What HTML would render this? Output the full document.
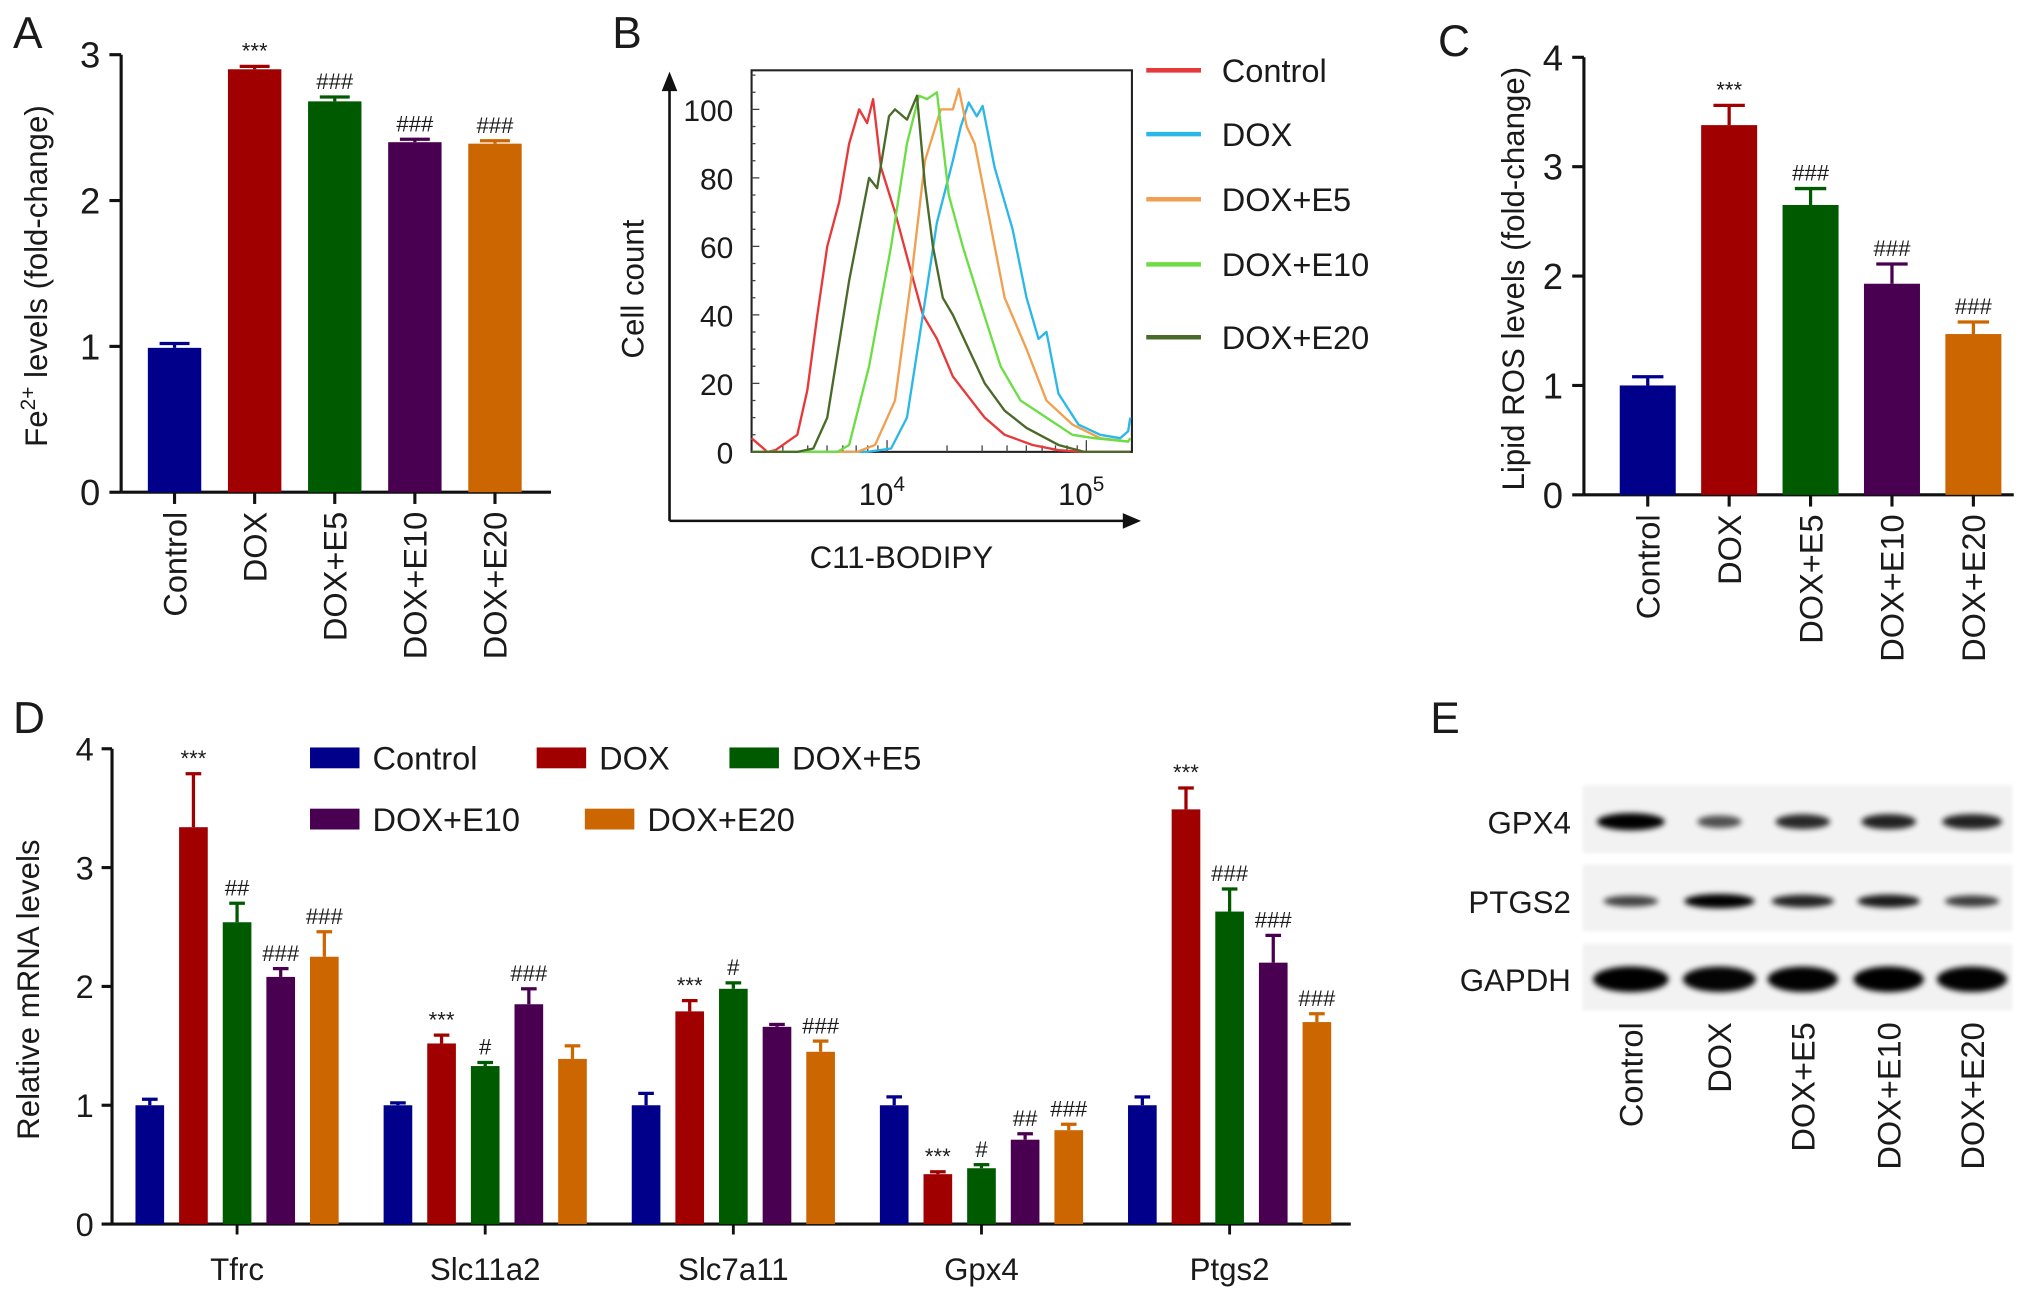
<!DOCTYPE html>
<html><head><meta charset="utf-8">
<style>
html,body{margin:0;padding:0;background:#fff;}
svg{display:block;font-family:"Liberation Sans",Arial,sans-serif;}
</style></head>
<body>
<svg id="fig" xmlns="http://www.w3.org/2000/svg" width="2032" height="1297" viewBox="0 0 1560 996" preserveAspectRatio="none">
<defs>
<filter id="blur" x="-30%" y="-100%" width="160%" height="300%"><feGaussianBlur stdDeviation="2.2"/></filter>
<filter id="blur2" x="-10%" y="-20%" width="120%" height="140%"><feGaussianBlur stdDeviation="1.5"/></filter>
</defs>
</svg>
<script>
// ---------- data ----------
const groups = ["Control","DOX","DOX+E5","DOX+E10","DOX+E20"];
const colors = ["#00008b","#a00000","#005a00","#4a0050","#cc6600"];

// Panel A
const feValues = [0.99, 2.90, 2.68, 2.40, 2.39];
const feErrors = [0.03, 0.02, 0.03, 0.02, 0.02];
const feMarks = ["", "***", "###", "###", "###"];
const feTicks = [0,1,2,3];

// Panel C
const rosValues = [1.00, 3.38, 2.65, 1.93, 1.47];
const rosErrors = [0.08, 0.18, 0.15, 0.18, 0.11];
const rosMarks = ["", "***", "###", "###", "###"];
const rosTicks = [0,1,2,3,4];

// Panel D
const genes = ["Tfrc","Slc11a2","Slc7a11","Gpx4","Ptgs2"];
const mrnaControl = [1.00, 1.00, 1.00, 1.00, 1.00];
const mrnaDOX     = [3.34, 1.52, 1.79, 0.42, 3.49];
const mrnaE5      = [2.54, 1.33, 1.98, 0.47, 2.63];
const mrnaE10     = [2.08, 1.85, 1.66, 0.71, 2.20];
const mrnaE20     = [2.25, 1.39, 1.45, 0.79, 1.70];
const errControl  = [0.05, 0.02, 0.10, 0.07, 0.07];
const errDOX      = [0.45, 0.07, 0.09, 0.02, 0.18];
const errE5       = [0.16, 0.03, 0.05, 0.03, 0.19];
const errE10      = [0.07, 0.13, 0.02, 0.05, 0.23];
const errE20      = [0.21, 0.11, 0.09, 0.05, 0.07];
const marksDOX = ["***","***","***","***","***"];
const marksE5  = ["##","#","#","#","###"];
const marksE10 = ["###","###","","##","###"];
const marksE20 = ["###","","###","###","###"];
const mrnaTicks = [0,1,2,3,4];

// Panel B (flow histograms): log10 fluorescence, cell count
const bColors = ["#e8393a","#2bb8e8","#f0a050","#6ade44","#4a6a2a"];
const ctrlLog = [3.32,3.40,3.44,3.55,3.60,3.65,3.70,3.76,3.81,3.86,3.90,3.93,3.97,4.04,4.10,4.18,4.25,4.33,4.41,4.49,4.59,4.73,4.86,4.99,5.22];
const ctrlCnt = [4,0,0.5,5,18,40,60,73,90,100,96,103,83,70,57,40,33,22,16,10,5,2,0.5,0,0];
const doxLog = [3.32,3.90,4.02,4.10,4.18,4.25,4.33,4.37,4.41,4.45,4.48,4.54,4.63,4.70,4.76,4.80,4.86,4.96,5.07,5.17,5.21,5.22];
const doxCnt = [0,0,1,10,40,67,85,95,102,98,101,83,65,45,33,35,17,8,5,4,6,10];
const e5Log = [3.32,3.85,3.94,4.04,4.12,4.19,4.27,4.33,4.36,4.40,4.44,4.49,4.59,4.70,4.80,4.93,5.07,5.21,5.22];
const e5Cnt = [0,0,2,15,50,85,100,100,106,95,90,75,45,30,15,8,4,3,4];
const e10Log = [3.32,3.75,3.81,3.91,4.02,4.10,4.16,4.20,4.25,4.31,4.38,4.46,4.57,4.67,4.80,4.93,5.04,5.21,5.22];
const e10Cnt = [0,0,2,25,60,90,104,103,105,75,60,45,25,15,10,5,4,3,4];
const e20Log = [3.32,3.55,3.63,3.70,3.81,3.91,3.95,4.01,4.04,4.10,4.15,4.19,4.23,4.28,4.33,4.41,4.49,4.59,4.70,4.86,4.99,5.22];
const e20Cnt = [0,0,1,10,50,80,77,98,100,97,104,78,60,45,40,30,20,12,7,2,0,0];
const bTicks = [0,20,40,60,80,100];

// Panel E (western blot band intensities 0..1)
const gpx4Bands = [1.0, 0.4, 0.7, 0.75, 0.75];
const ptgs2Bands = [0.5, 1.0, 0.75, 0.8, 0.55];
const gapdhBands = [1.0, 0.97, 0.98, 1.0, 0.98];

// ---------- helpers ----------
const svg = document.getElementById('fig');
const NS = "http://www.w3.org/2000/svg";
function mk(tag, attrs, parent){
  const e = document.createElementNS(NS, tag);
  for (const k in attrs) e.setAttribute(k, attrs[k]);
  (parent||svg).appendChild(e);
  return e;
}
function txt(str, x, y, size, anchor, parent, rot){
  const t = mk('text', {x:x, y:y, 'font-size':size, 'text-anchor':anchor||'start', fill:'#1a1a1a'}, parent);
  if (rot) t.setAttribute('transform', 'rotate(' + rot + ' ' + x + ' ' + y + ')');
  t.textContent = str;
  return t;
}

// panel letters
[["A",10,37],["B",470,37],["C",1104,43],["D",10,563],["E",1098,563]].forEach(p=>{
  const t = txt(p[0], p[1], p[2], 34, 'start');
  
  
});

// ---------- simple bar chart (A, C) ----------
function barChart(opt){
  const g = mk('g', {});
  
  
  const yS = v => opt.y0 - (v/opt.max)*(opt.y0-opt.yTop);
  const xS = i => opt.x1 + i*opt.step;
  const ya = mk('line', {x1:opt.ax, y1:opt.yTop, x2:opt.ax, y2:opt.y0, stroke:'#111', 'stroke-width':2.4}, g);
  
  
  opt.ticks.forEach(t=>{
    mk('line', {x1:opt.ax-9, y1:yS(t), x2:opt.ax, y2:yS(t), stroke:'#111','stroke-width':2.4}, g);
    const tl = txt(String(t), opt.ax-16, yS(t)+10, 28, 'end', g);
    
    
  });
  const xa = mk('line', {x1:opt.ax, y1:opt.y0, x2:opt.xEnd, y2:opt.y0, stroke:'#111','stroke-width':2.4}, g);
  
  
  opt.values.forEach((v,i)=>{
    const cx = xS(i);
    const top = yS(v);
    const et = yS(v + opt.errors[i]);
    const el = mk('line', {x1:cx, y1:top, x2:cx, y2:et, stroke:colors[i], 'stroke-width':2.5}, g);
    
    
    mk('line', {x1:cx-opt.bw*0.28, y1:et, x2:cx+opt.bw*0.28, y2:et, stroke:colors[i], 'stroke-width':2.5}, g);
    const r = mk('rect', {x:cx-opt.bw/2, y:top, width:opt.bw, height:opt.y0-top, fill:colors[i]}, g);
    
    
    mk('line', {x1:cx, y1:opt.y0, x2:cx, y2:opt.y0+9, stroke:'#111','stroke-width':2.4}, g);
    if (opt.marks[i]) {
      const m = txt(opt.marks[i], cx, et-6, 17, 'middle', g);
      
      
    }
    const cl = txt(groups[i], cx+9, opt.y0+15, 25, 'end', g, -90);
    
    
  });
  const yt = mk('text', {x:opt.ylx, y:opt.yly, 'font-size':24, 'text-anchor':'middle', fill:'#1a1a1a', transform:'rotate(-90 '+opt.ylx+' '+opt.yly+')'}, g);
  
  
  if (opt.sup) {
    yt.appendChild(document.createTextNode('Fe'));
    const s = document.createElementNS(NS,'tspan');
    s.setAttribute('dy', -9); s.setAttribute('font-size', 16);
    s.textContent = '2+';
    yt.appendChild(s);
    const s2 = document.createElementNS(NS,'tspan');
    s2.setAttribute('dy', 9);
    s2.textContent = ' levels (fold-change)';
    yt.appendChild(s2);
  } else yt.textContent = opt.ytitle;
}

barChart({name:'panel-a-fe-chart', values:feValues, errors:feErrors, marks:feMarks, ticks:feTicks, max:3,
  ax:93, y0:378, yTop:42, x1:134, step:61.5, bw:41, xEnd:423, ylx:36, yly:212, sup:true});
barChart({name:'panel-c-ros-chart', values:rosValues, errors:rosErrors, marks:rosMarks, ticks:rosTicks, max:4,
  ax:1216, y0:380, yTop:44, x1:1265, step:62.5, bw:43, xEnd:1546, ylx:1170, yly:214, ytitle:'Lipid ROS levels (fold-change)'});

// ---------- Panel B: flow histogram ----------
(function(){
  const g = mk('g', {});
  
  
  const L=577, R=869, T=54, B=347;
  const xS = lg => 681 + (lg-4)*153;
  const yS = c => B - c*2.63;
  const va = mk('line', {x1:514, y1:400, x2:514, y2:66, stroke:'#111','stroke-width':2}, g);
  
  
  mk('polygon', {points:'508,70 520,70 514,55', fill:'#111'}, g);
  const ha = mk('line', {x1:514, y1:400, x2:864, y2:400, stroke:'#111','stroke-width':2}, g);
  
  
  mk('polygon', {points:'862,394 862,406 876,400', fill:'#111'}, g);
  const box = mk('rect', {x:L, y:T, width:R-L, height:B-T, fill:'none', stroke:'#222','stroke-width':1.6}, g);
  
  
  for (let c=0;c<=110;c+=5){
    mk('line', {x1:L, y1:yS(c), x2:L+(c%20===0?6:3), y2:yS(c), stroke:'#444','stroke-width':1}, g);
  }
  bTicks.forEach(t=>{
    const tl = txt(String(t), L-14, yS(t)+9, 23, 'end', g);
    
    
  });
  for (let d=3; d<=5; d++){
    for (let k=1;k<10;k++){
      const lg = d + Math.log10(k);
      if (lg < 3.32 || lg > 5.22) continue;
      const x = xS(lg);
      mk('line', {x1:x, y1:B, x2:x, y2:B-(k===1?9:5), stroke:'#444','stroke-width':1}, g);
    }
  }
  [4,5].forEach(p=>{
    const t = mk('text', {x:xS(p)-4, y:388, 'font-size':24, 'text-anchor':'middle', fill:'#1a1a1a'}, g);
    
    
    t.appendChild(document.createTextNode('10'));
    const s = document.createElementNS(NS,'tspan');
    s.setAttribute('dy', -11); s.setAttribute('font-size', 16);
    s.textContent = String(p);
    t.appendChild(s);
  });
  const series = [[ctrlLog,ctrlCnt],[doxLog,doxCnt],[e5Log,e5Cnt],[e10Log,e10Cnt],[e20Log,e20Cnt]];
  const names = ['control','dox','dox-e5','dox-e10','dox-e20'];
  series.forEach((s,i)=>{
    let d = '';
    s[0].forEach((lg,j)=>{ d += (j?'L':'M') + xS(lg).toFixed(1) + ',' + yS(s[1][j]).toFixed(1); });
    const p = mk('path', {d:d, fill:'none', stroke:bColors[i], 'stroke-width':1.8, 'stroke-linejoin':'round'}, g);
    
    
  });
  const yt = txt('Cell count', 494, 222, 24, 'middle', g, -90);
  
  
  const xt = txt('C11-BODIPY', 692, 436, 24, 'middle', g);
  
  
  const ly = [54, 103, 153, 203, 259];
  groups.forEach((n,i)=>{
    const ln = mk('line', {x1:880, y1:ly[i], x2:922, y2:ly[i], stroke:bColors[i], 'stroke-width':3.5}, g);
    
    
    const t = txt(n, 938, ly[i]+9, 25, 'start', g);
    
    
  });
})();

// ---------- Panel D: grouped bars ----------
(function(){
  const g = mk('g', {});
  
  
  const ax=86, y0=940, yTop=575;
  const yS = v => y0 - (v/4)*(y0-yTop);
  const gc = i => 182 + i*190.5;
  const bw = 22, step = 33.5;
  const vals = [mrnaControl, mrnaDOX, mrnaE5, mrnaE10, mrnaE20];
  const errs = [errControl, errDOX, errE5, errE10, errE20];
  const marks = [null, marksDOX, marksE5, marksE10, marksE20];
  const ya = mk('line', {x1:ax, y1:yTop, x2:ax, y2:y0, stroke:'#111','stroke-width':2.4}, g);
  
  
  mrnaTicks.forEach(t=>{
    mk('line', {x1:ax-8, y1:yS(t), x2:ax, y2:yS(t), stroke:'#111','stroke-width':2.4}, g);
    const tl = txt(String(t), ax-14, yS(t)+9, 25, 'end', g);
    
    
  });
  const xa = mk('line', {x1:ax, y1:y0, x2:1037, y2:y0, stroke:'#111','stroke-width':2.4}, g);
  
  
  genes.forEach((gn,gi)=>{
    const c = gc(gi);
    mk('line', {x1:c, y1:y0, x2:c, y2:y0+8, stroke:'#111','stroke-width':2.2}, g);
    const lbl = txt(gn, c, 983, 24, 'middle', g);
    
    
    for (let s=0;s<5;s++){
      const cx = c + (s-2)*step;
      const v = vals[s][gi];
      const top = yS(v), et = yS(v + errs[s][gi]);
      mk('line', {x1:cx, y1:top, x2:cx, y2:et, stroke:colors[s],'stroke-width':2.5}, g);
      mk('line', {x1:cx-6, y1:et, x2:cx+6, y2:et, stroke:colors[s],'stroke-width':2.5}, g);
      const r = mk('rect', {x:cx-bw/2, y:top, width:bw, height:y0-top, fill:colors[s]}, g);
      
      
      if (marks[s] && marks[s][gi]) {
        const m = txt(marks[s][gi], cx, et-6, 17, 'middle', g);
        
        
      }
    }
  });
  const yt = txt('Relative mRNA levels', 30, 760, 24, 'middle', g, -90);
  
  
  const leg = [[238,582],[412,582],[560,582],[238,629],[449,629]];
  groups.forEach((n,i)=>{
    const sw = mk('rect', {x:leg[i][0], y:leg[i][1]-8, width:38, height:16, fill:colors[i]}, g);
    
    
    const t = txt(n, leg[i][0]+48, leg[i][1]+9, 25, 'start', g);
    
    
  });
})();

// ---------- Panel E: western blot ----------
(function(){
  const g = mk('g', {});
  
  
  const lanes = [1252, 1320, 1384, 1450, 1514];
  const rows = [
    {name:'GPX4', y:603, h:52, band:631, data:gpx4Bands, bh:12, bw:[52,34,42,42,46]},
    {name:'PTGS2', y:664, h:51, band:692, data:ptgs2Bands, bh:10, bw:[42,54,48,48,42]},
    {name:'GAPDH', y:725, h:51, band:752, data:gapdhBands, bh:18, bw:[58,56,54,54,54]}
  ];
  rows.forEach(r=>{
    const strip = mk('rect', {x:1215, y:r.y, width:330, height:r.h, fill:'#f2f2f2', filter:'url(#blur2)'}, g);
    
    
    const lb = txt(r.name, 1206, r.band+9, 24, 'end', g);
    
    
    r.data.forEach((v,i)=>{
      const b = mk('ellipse', {cx:lanes[i], cy:r.band, rx:r.bw[i]/2, ry:r.bh/2 * (0.6+0.5*v), fill:'#000', opacity:(0.45+0.55*v).toFixed(2), filter:'url(#blur)'}, g);
      
      
    });
  });
  groups.forEach((n,i)=>{
    const t = txt(n, lanes[i]+9, 785, 25, 'end', g, -90);
    
    
  });
})();
</script>
</body></html>
